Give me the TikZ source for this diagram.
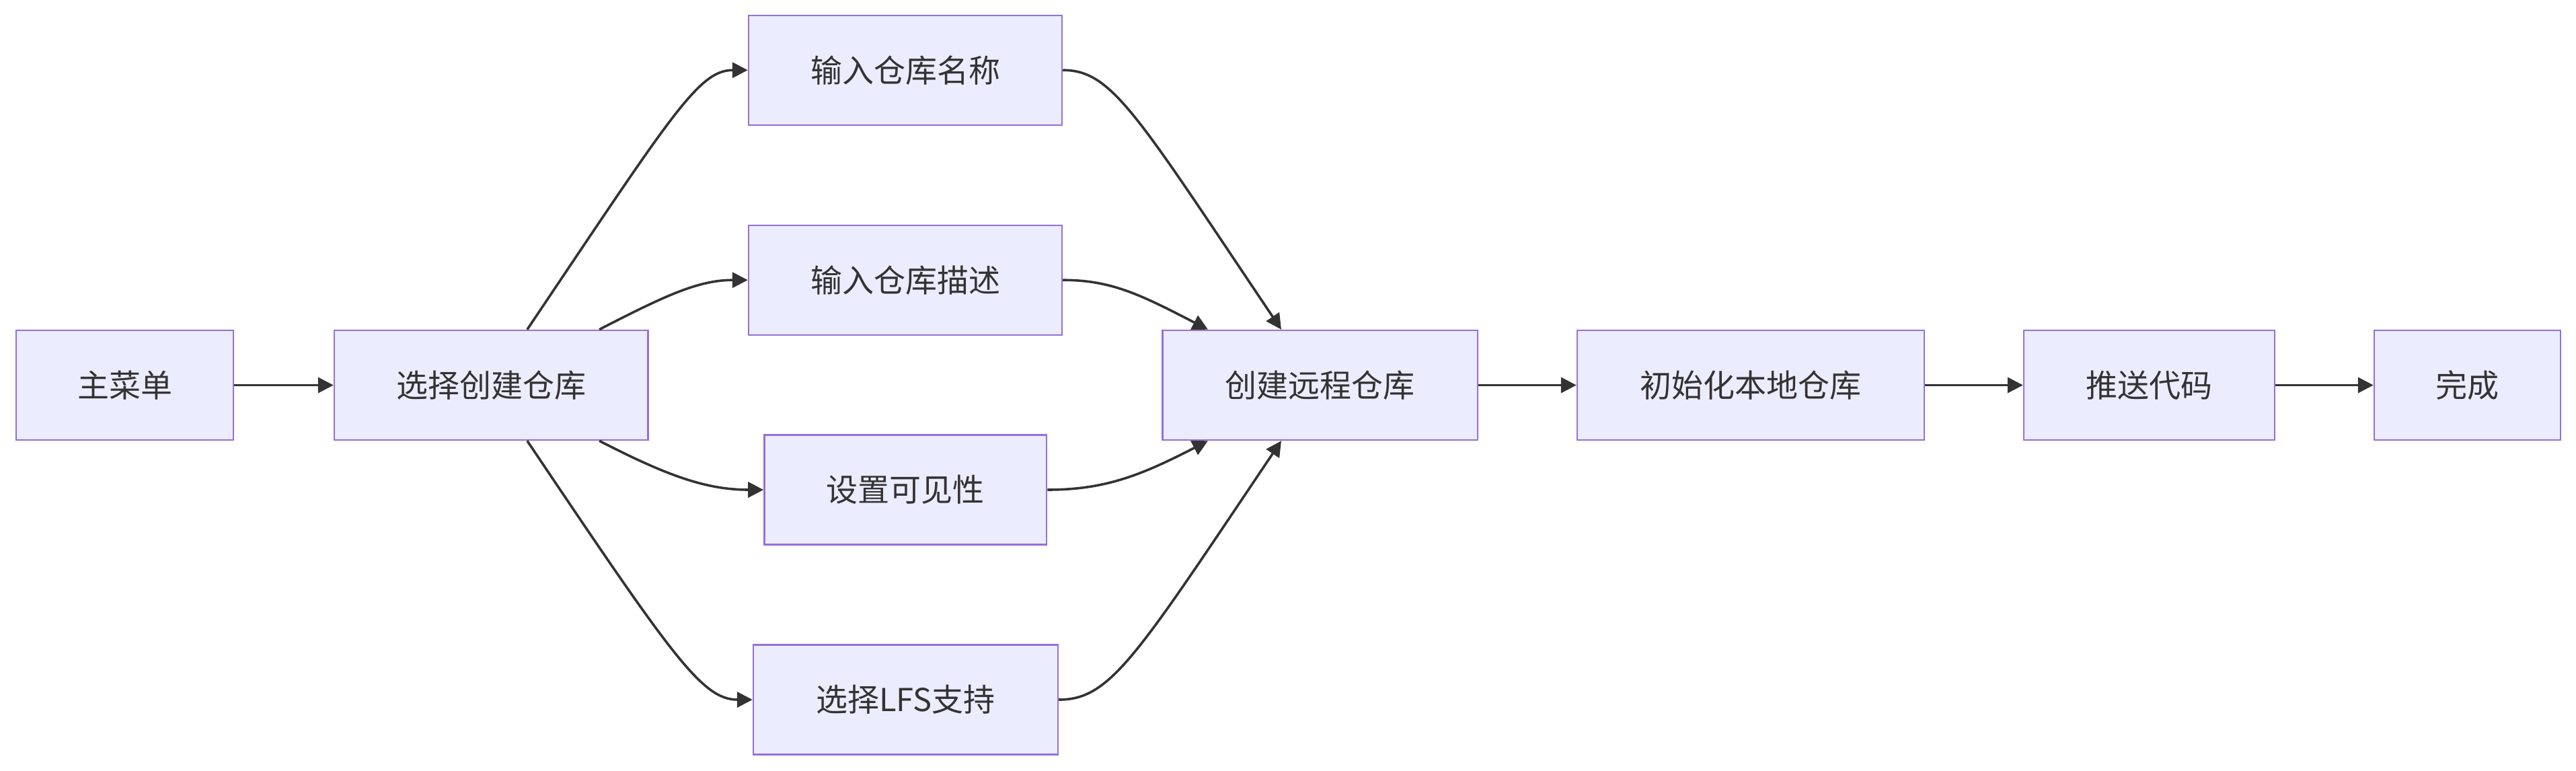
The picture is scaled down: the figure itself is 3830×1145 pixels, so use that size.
\documentclass[tikz,border=0pt]{standalone}
\usepackage{fontspec}
\setmainfont{Noto Sans CJK SC}
\usepackage{tikz}
\usetikzlibrary{arrows.meta}
\definecolor{boxfill}{HTML}{ECECFF}
\definecolor{boxline}{HTML}{9370DB}
\definecolor{ink}{HTML}{333333}
\tikzset{
proc/.style={draw=boxline,fill=boxfill,line width=0.61pt,minimum height=40.75pt,inner sep=0pt,text=ink,font=\fontsize{11.75pt}{14pt}\selectfont},
flow/.style={draw=ink,line width=0.9pt,-{Triangle[length=5.75pt,width=5.75pt]}}
}

\begin{document}
\begin{tikzpicture}[x=0.25pt,y=-0.25pt]
\useasboundingbox (0,0) rectangle (3830,1145);
\node[proc,minimum width=80.75pt] (menu) at (185.5,572.5) {主菜单};
\node[proc,minimum width=116.6pt] (pick) at (730.25,572.5) {选择创建仓库};
\node[proc,minimum width=116.5pt] (name) at (1346,104.25) {输入仓库名称};
\node[proc,minimum width=116.5pt] (desc) at (1346,416.25) {输入仓库描述};
\node[proc,minimum width=104.9pt] (vis) at (1346.25,728) {设置可见性};
\node[proc,minimum width=113.25pt] (lfs) at (1346.5,1040) {选择LFS支持};
\node[proc,minimum width=117.1pt] (remote) at (1962.8,572.5) {创建远程仓库};
\node[proc,minimum width=129pt] (local) at (2603,572.5) {初始化本地仓库};
\node[proc,minimum width=93.25pt] (push) at (3195.5,572.5) {推送代码};
\node[proc,minimum width=69.25pt] (done) at (3668.5,572.5) {完成};
\draw[flow] (menu.east) -- (pick.west);
\draw[flow] ([xshift=13.4pt]pick.north) .. controls +(216,-321) and +(-73,0) .. (name.west);
\draw[flow] ([xshift=40.2pt]pick.north) .. controls +(99,-51) and +(-73,0) .. (desc.west);
\draw[flow] ([xshift=40.2pt]pick.south) .. controls +(99,51) and +(-86,0) .. (vis.west);
\draw[flow] ([xshift=13.4pt]pick.south) .. controls +(216,321) and +(-75,0) .. (lfs.west);
\draw[flow] (name.east) .. controls +(73,0) and +(-216,-321) .. ([xshift=-14.45pt]remote.north);
\draw[flow] (desc.east) .. controls +(73,0) and +(-99,-51) .. ([xshift=-41.7pt]remote.north);
\draw[flow] (vis.east) .. controls +(86,0) and +(-99,51) .. ([xshift=-41.7pt]remote.south);
\draw[flow] (lfs.east) .. controls +(77,0) and +(-216,321) .. ([xshift=-14.45pt]remote.south);
\draw[flow] (remote.east) -- (local.west);
\draw[flow] (local.east) -- (push.west);
\draw[flow] (push.east) -- (done.west);
\end{tikzpicture}
\end{document}
